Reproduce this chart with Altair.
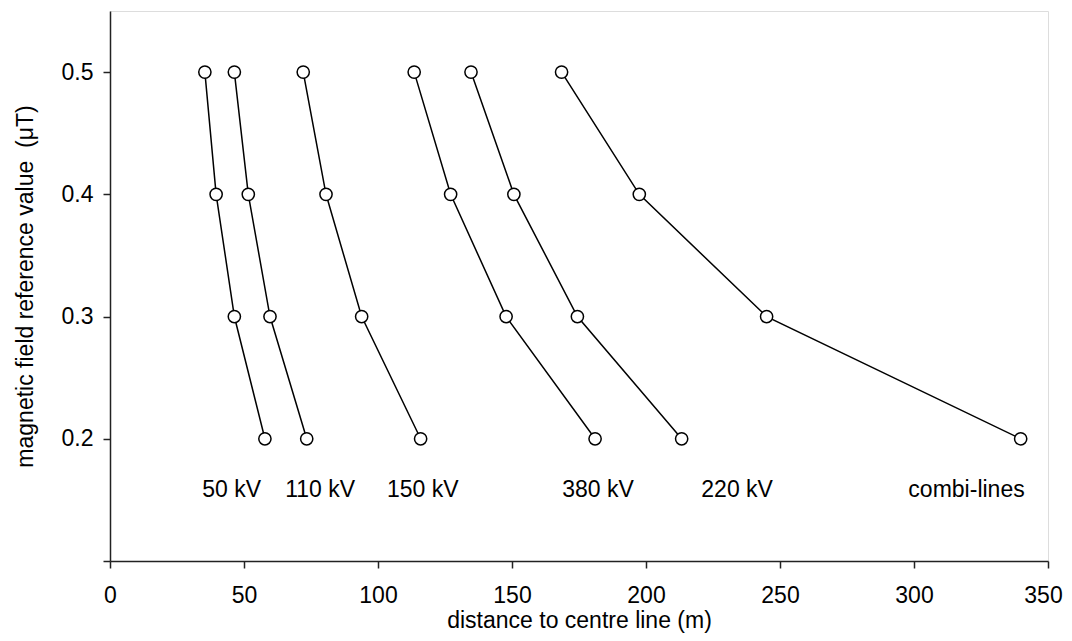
import altair as alt
import pandas as pd

levels = [0.5, 0.4, 0.3, 0.2]
series_names = ["50 kV", "110 kV", "150 kV", "380 kV", "220 kV", "combi-lines"]
d_50 = [35.4, 39.6, 46.4, 57.8]
d_110 = [46.4, 51.6, 59.7, 73.4]
d_150 = [72.1, 80.6, 93.9, 115.9]
d_380 = [113.5, 127.1, 147.8, 181.0]
d_220 = [134.7, 150.7, 174.4, 213.3]
d_combi = [168.5, 197.5, 245.0, 339.8]
label_x = [45.4, 78.4, 116.7, 182.1, 234.0, 319.6]
label_y = [0.158] * 6
x_ticks = [0, 50, 100, 150, 200, 250, 300, 350]
y_ticks = [0.1, 0.2, 0.3, 0.4, 0.5]

all_d = [d_50, d_110, d_150, d_380, d_220, d_combi]
rows = []
for name, ds in zip(series_names, all_d):
    for i, (d, lv) in enumerate(zip(ds, levels)):
        rows.append({"series": name, "dist": d, "level": lv, "ord": i})
df = pd.DataFrame(rows)
lab = pd.DataFrame({"text": series_names, "x": label_x, "y": label_y})

FONT = "Liberation Sans"
FS = 23

xs = alt.Scale(domain=[0, 350], nice=False, zero=False)
ys = alt.Scale(domain=[0.1, 0.55], nice=False, zero=False)

xenc = alt.X("dist:Q", scale=xs, axis=alt.Axis(
    title="distance to centre line (m)", values=x_ticks, grid=False,
    tickSize=7, tickWidth=1.5, tickColor="#222", domainColor="#222", domainWidth=1.5,
    labelFont=FONT, labelFontSize=FS, labelColor="black", labelPadding=16,
    labelOffset={"condition": {"test": "datum.value == 350", "value": -5}, "value": 0},
    titleFont=FONT, titleFontSize=FS, titleFontWeight="normal", titleColor="black",
    titlePadding=2, labelFlush=False))
yenc = alt.Y("level:Q", scale=ys, axis=alt.Axis(
    title="magnetic field reference value\u00a0\u00a0(\u03bcT)", values=y_ticks, grid=False,
    labelExpr="datum.value < 0.15 ? '' : format(datum.value, '.1f')",
    tickSize=7, tickWidth=1.5, tickColor="#222", domainColor="#222", domainWidth=1.5,
    labelFont=FONT, labelFontSize=FS, labelColor="black", labelPadding=10,
    titleFont=FONT, titleFontSize=FS, titleFontWeight="normal", titleColor="black",
    titlePadding=24, labelFlush=False))

lines = alt.Chart(df).mark_line(color="black", strokeWidth=1.5).encode(
    x=xenc, y=yenc, detail="series:N", order="ord:Q")
pts = alt.Chart(df).mark_point(shape="circle", filled=True, fill="white", stroke="black",
                               strokeWidth=1.5, size=150, opacity=1).encode(
    x=alt.X("dist:Q", scale=xs), y=alt.Y("level:Q", scale=ys))
texts = alt.Chart(lab).mark_text(font=FONT, fontSize=FS, color="black",
                                 align="center", baseline="middle").encode(
    x=alt.X("x:Q", scale=xs), y=alt.Y("y:Q", scale=ys), text="text:N")

chart = alt.layer(lines, pts, texts).properties(
    width=938, height=550,
    autosize=alt.AutoSizeParams(type="none"),
    padding={"left": 102, "top": 3, "right": 16, "bottom": 72},
).configure_view(stroke="#222", strokeWidth=1.5).configure(background="white")

chart.save("out.html", embed_options={"renderer": "svg", "actions": False})
